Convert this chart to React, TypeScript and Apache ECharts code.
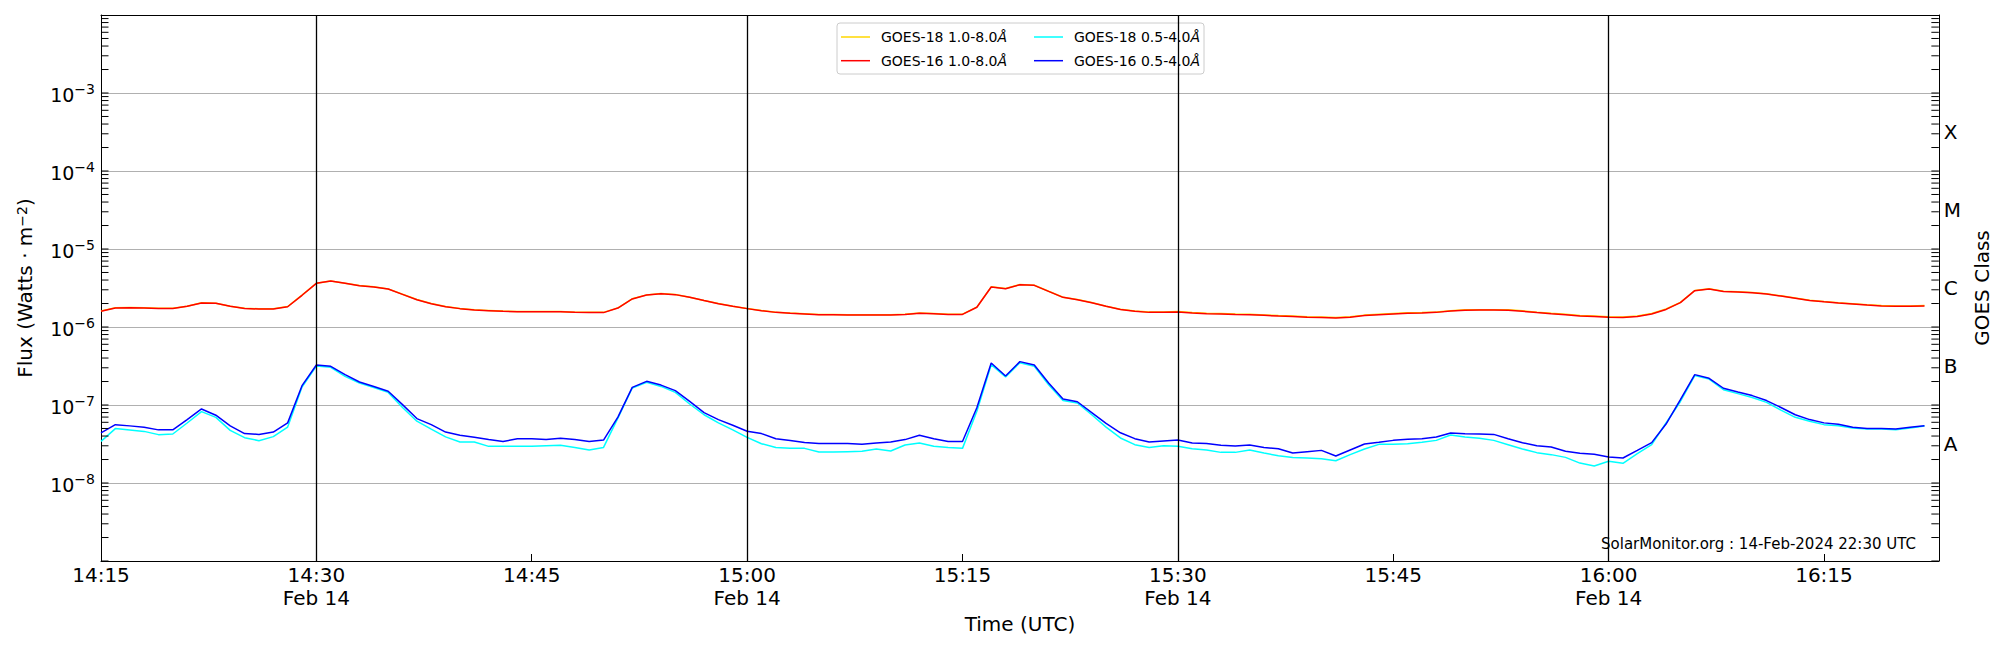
import React, { useEffect, useRef } from "react";
import * as echarts from "echarts";

// ---- data (1-minute cadence starting 14:15 UTC, 14-Feb-2024) ----
const START_HOUR = 14;
const START_MIN = 15;
const DATE_LABEL = "Feb 14";
const X_MAX = 128; // minutes after start shown on the axis
const minutes = Array.from({ length: 128 }, (_, i) => i);

const goes16Long = [
  1.59e-6, 1.75e-6, 1.77e-6, 1.75e-6, 1.73e-6, 1.73e-6, 1.84e-6, 2.03e-6, 2.01e-6, 1.84e-6,
  1.73e-6, 1.70e-6, 1.70e-6, 1.82e-6, 2.55e-6, 3.63e-6, 3.89e-6, 3.63e-6, 3.39e-6, 3.26e-6,
  3.07e-6, 2.62e-6, 2.24e-6, 1.99e-6, 1.82e-6, 1.72e-6, 1.65e-6, 1.62e-6, 1.59e-6, 1.57e-6,
  1.57e-6, 1.57e-6, 1.57e-6, 1.54e-6, 1.53e-6, 1.53e-6, 1.75e-6, 2.29e-6, 2.57e-6, 2.67e-6,
  2.60e-6, 2.40e-6, 2.18e-6, 1.99e-6, 1.84e-6, 1.72e-6, 1.62e-6, 1.54e-6, 1.50e-6, 1.47e-6,
  1.44e-6, 1.44e-6, 1.43e-6, 1.43e-6, 1.43e-6, 1.43e-6, 1.45e-6, 1.50e-6, 1.48e-6, 1.45e-6,
  1.45e-6, 1.79e-6, 3.26e-6, 3.10e-6, 3.49e-6, 3.42e-6, 2.86e-6, 2.40e-6, 2.24e-6, 2.05e-6,
  1.84e-6, 1.68e-6, 1.59e-6, 1.54e-6, 1.54e-6, 1.56e-6, 1.51e-6, 1.48e-6, 1.47e-6, 1.45e-6,
  1.44e-6, 1.41e-6, 1.38e-6, 1.36e-6, 1.33e-6, 1.32e-6, 1.30e-6, 1.33e-6, 1.40e-6, 1.44e-6,
  1.47e-6, 1.50e-6, 1.51e-6, 1.54e-6, 1.60e-6, 1.64e-6, 1.65e-6, 1.65e-6, 1.64e-6, 1.59e-6,
  1.53e-6, 1.48e-6, 1.44e-6, 1.38e-6, 1.36e-6, 1.33e-6, 1.32e-6, 1.36e-6, 1.47e-6, 1.68e-6,
  2.05e-6, 2.92e-6, 3.07e-6, 2.86e-6, 2.81e-6, 2.75e-6, 2.65e-6, 2.49e-6, 2.33e-6, 2.18e-6,
  2.10e-6, 2.03e-6, 1.97e-6, 1.91e-6, 1.86e-6, 1.84e-6, 1.84e-6, 1.86e-6,
];

const goes18Long = [
  1.60e-6, 1.76e-6, 1.78e-6, 1.76e-6, 1.74e-6, 1.74e-6, 1.85e-6, 2.04e-6, 2.02e-6, 1.85e-6,
  1.74e-6, 1.71e-6, 1.71e-6, 1.83e-6, 2.56e-6, 3.64e-6, 3.90e-6, 3.64e-6, 3.40e-6, 3.27e-6,
  3.08e-6, 2.63e-6, 2.25e-6, 2.00e-6, 1.83e-6, 1.73e-6, 1.66e-6, 1.63e-6, 1.60e-6, 1.58e-6,
  1.58e-6, 1.58e-6, 1.58e-6, 1.55e-6, 1.54e-6, 1.54e-6, 1.76e-6, 2.30e-6, 2.58e-6, 2.68e-6,
  2.61e-6, 2.41e-6, 2.19e-6, 2.00e-6, 1.85e-6, 1.73e-6, 1.63e-6, 1.55e-6, 1.51e-6, 1.48e-6,
  1.45e-6, 1.45e-6, 1.44e-6, 1.44e-6, 1.44e-6, 1.44e-6, 1.46e-6, 1.51e-6, 1.49e-6, 1.46e-6,
  1.46e-6, 1.80e-6, 3.27e-6, 3.11e-6, 3.50e-6, 3.43e-6, 2.87e-6, 2.41e-6, 2.25e-6, 2.06e-6,
  1.85e-6, 1.69e-6, 1.60e-6, 1.56e-6, 1.56e-6, 1.58e-6, 1.53e-6, 1.50e-6, 1.49e-6, 1.47e-6,
  1.46e-6, 1.43e-6, 1.40e-6, 1.38e-6, 1.35e-6, 1.34e-6, 1.32e-6, 1.35e-6, 1.42e-6, 1.46e-6,
  1.49e-6, 1.52e-6, 1.53e-6, 1.56e-6, 1.62e-6, 1.66e-6, 1.67e-6, 1.67e-6, 1.66e-6, 1.61e-6,
  1.55e-6, 1.50e-6, 1.46e-6, 1.40e-6, 1.38e-6, 1.35e-6, 1.34e-6, 1.38e-6, 1.49e-6, 1.70e-6,
  2.07e-6, 2.94e-6, 3.09e-6, 2.88e-6, 2.83e-6, 2.77e-6, 2.67e-6, 2.51e-6, 2.35e-6, 2.20e-6,
  2.12e-6, 2.05e-6, 1.99e-6, 1.93e-6, 1.88e-6, 1.86e-6, 1.86e-6, 1.88e-6,
];

const goes16Short = [
  4.4e-8, 5.6e-8, 5.4e-8, 5.2e-8, 4.8e-8, 4.8e-8, 6.5e-8, 8.9e-8, 7.4e-8, 5.4e-8,
  4.3e-8, 4.2e-8, 4.5e-8, 5.9e-8, 1.77e-7, 3.26e-7, 3.13e-7, 2.45e-7, 1.97e-7, 1.73e-7,
  1.5e-7, 1.01e-7, 6.7e-8, 5.6e-8, 4.5e-8, 4.1e-8, 3.85e-8, 3.6e-8, 3.4e-8, 3.7e-8,
  3.7e-8, 3.6e-8, 3.75e-8, 3.6e-8, 3.4e-8, 3.55e-8, 7.0e-8, 1.68e-7, 2.01e-7, 1.8e-7,
  1.53e-7, 1.11e-7, 8.0e-8, 6.5e-8, 5.5e-8, 4.6e-8, 4.3e-8, 3.7e-8, 3.5e-8, 3.3e-8,
  3.2e-8, 3.2e-8, 3.2e-8, 3.15e-8, 3.25e-8, 3.35e-8, 3.6e-8, 4.1e-8, 3.7e-8, 3.4e-8,
  3.4e-8, 9.2e-8, 3.45e-7, 2.35e-7, 3.6e-7, 3.26e-7, 1.91e-7, 1.19e-7, 1.1e-7, 8.0e-8,
  5.8e-8, 4.4e-8, 3.7e-8, 3.35e-8, 3.45e-8, 3.55e-8, 3.25e-8, 3.2e-8, 3.05e-8, 2.98e-8,
  3.07e-8, 2.86e-8, 2.75e-8, 2.42e-8, 2.52e-8, 2.62e-8, 2.22e-8, 2.65e-8, 3.16e-8, 3.32e-8,
  3.52e-8, 3.63e-8, 3.7e-8, 3.89e-8, 4.38e-8, 4.28e-8, 4.24e-8, 4.2e-8, 3.7e-8, 3.29e-8,
  3.01e-8, 2.9e-8, 2.55e-8, 2.4e-8, 2.33e-8, 2.15e-8, 2.09e-8, 2.62e-8, 3.29e-8, 5.7e-8,
  1.17e-7, 2.45e-7, 2.2e-7, 1.64e-7, 1.47e-7, 1.32e-7, 1.14e-7, 9.3e-8, 7.5e-8, 6.5e-8,
  5.9e-8, 5.65e-8, 5.17e-8, 4.98e-8, 4.98e-8, 4.92e-8, 5.17e-8, 5.43e-8,
];

const goes18Short = [
  3.42e-8, 4.98e-8, 4.78e-8, 4.59e-8, 4.17e-8, 4.25e-8, 5.88e-8, 8.22e-8, 6.95e-8, 4.73e-8,
  3.81e-8, 3.49e-8, 3.93e-8, 5.22e-8, 1.7e-7, 3.16e-7, 3.04e-7, 2.33e-7, 1.91e-7, 1.68e-7,
  1.45e-7, 9.3e-8, 6.2e-8, 4.9e-8, 3.9e-8, 3.36e-8, 3.36e-8, 2.95e-8, 2.95e-8, 2.95e-8,
  2.95e-8, 3.01e-8, 3.04e-8, 2.86e-8, 2.65e-8, 2.86e-8, 6.8e-8, 1.65e-7, 1.95e-7, 1.73e-7,
  1.45e-7, 1.03e-7, 7.5e-8, 5.9e-8, 4.8e-8, 3.85e-8, 3.19e-8, 2.86e-8, 2.78e-8, 2.78e-8,
  2.49e-8, 2.49e-8, 2.52e-8, 2.55e-8, 2.73e-8, 2.57e-8, 3.07e-8, 3.26e-8, 2.95e-8, 2.86e-8,
  2.78e-8, 8.3e-8, 3.29e-7, 2.29e-7, 3.49e-7, 3.13e-7, 1.82e-7, 1.14e-7, 1.06e-7, 7.5e-8,
  5.2e-8, 3.78e-8, 3.1e-8, 2.86e-8, 3.01e-8, 2.95e-8, 2.75e-8, 2.65e-8, 2.47e-8, 2.47e-8,
  2.65e-8, 2.42e-8, 2.24e-8, 2.13e-8, 2.09e-8, 2.05e-8, 1.93e-8, 2.31e-8, 2.73e-8, 3.13e-8,
  3.13e-8, 3.19e-8, 3.32e-8, 3.52e-8, 4.12e-8, 3.89e-8, 3.74e-8, 3.52e-8, 3.1e-8, 2.73e-8,
  2.45e-8, 2.31e-8, 2.13e-8, 1.8e-8, 1.65e-8, 1.9e-8, 1.79e-8, 2.38e-8, 3.1e-8, 5.88e-8,
  1.11e-7, 2.38e-7, 2.15e-7, 1.57e-7, 1.4e-7, 1.25e-7, 1.08e-7, 8.6e-8, 6.95e-8, 6.18e-8,
  5.6e-8, 5.43e-8, 5.07e-8, 4.92e-8, 4.92e-8, 4.83e-8, 5.07e-8, 5.38e-8,
];

const SERIES_NAMES = {
  g18Long: "GOES-18 1.0-8.0Å",
  g16Long: "GOES-16 1.0-8.0Å",
  g18Short: "GOES-18 0.5-4.0Å",
  g16Short: "GOES-16 0.5-4.0Å",
};

const vLineMinutes = [15, 45, 75, 105]; // 14:30, 15:00, 15:30, 16:00
const Y_MIN_EXP = -9;
const Y_MAX_EXP = -2;
const goesClasses = [
  { exp: -7.5, label: "A" },
  { exp: -6.5, label: "B" },
  { exp: -5.5, label: "C" },
  { exp: -4.5, label: "M" },
  { exp: -3.5, label: "X" },
];
const annotation = "SolarMonitor.org : 14-Feb-2024 22:30 UTC";

const FONT = "DejaVu Sans";

function pad2(n: number) {
  return n < 10 ? "0" + n : String(n);
}

export default function App() {
  const ref = useRef<HTMLDivElement>(null);

  useEffect(() => {
    if (!ref.current) return;
    const chart = echarts.init(ref.current, null, { renderer: "svg" });

    const pairs = (vals: number[]) => minutes.map((m, i) => [m, vals[i]]);

    // log tick positions (axis decoration), 1..9 x 10^e
    const tickData: number[][] = [];
    for (let e = Y_MIN_EXP; e < Y_MAX_EXP; e++) {
      for (let k = 1; k <= 9; k++) {
        tickData.push([0, k * Math.pow(10, e), k === 1 ? 1 : 0]);
      }
    }

    const classMap: Record<string, string> = {};
    goesClasses.forEach((c) => (classMap[c.exp.toFixed(1)] = c.label));

    const legendFmt = (name: string) => name.replace("Å", "{i|Å}");
    const legendText = {
      fontFamily: FONT,
      fontSize: 14,
      color: "#000",
      padding: [0, 0, 0, 6],
      rich: { i: { fontFamily: FONT, fontSize: 14, fontStyle: "italic", color: "#000" } },
    };
    const legendBase = {
      top: 30,
      orient: "vertical",
      padding: 0,
      icon: "rect",
      itemWidth: 29,
      itemHeight: 1.5,
      itemGap: 9.7,
      selectedMode: false,
      formatter: legendFmt,
      textStyle: legendText,
      z: 6,
    };

    const lineSeries = (name: string, data: number[], color: string, extra: any = {}) => ({
      name,
      type: "line",
      data: pairs(data),
      symbol: "none",
      showSymbol: false,
      lineStyle: { color, width: 1.5 },
      itemStyle: { color },
      xAxisIndex: 0,
      yAxisIndex: 0,
      ...extra,
    });

    const option: any = {
      animation: false,
      textStyle: { fontFamily: FONT, color: "#000" },
      grid: { left: 101, right: 60, top: 15, bottom: 89, containLabel: false },
      xAxis: [
        {
          type: "value",
          position: "bottom",
          min: 0,
          max: X_MAX,
          interval: 15,
          name: "Time (UTC)",
          nameLocation: "middle",
          nameGap: 52,
          nameTextStyle: { fontFamily: FONT, fontSize: 20, color: "#000" },
          axisLine: { show: true, onZero: false, lineStyle: { color: "#000", width: 1 } },
          axisTick: { show: true, inside: true, length: 7, lineStyle: { color: "#000", width: 1 } },
          splitLine: { show: false },
          axisLabel: {
            show: true,
            margin: 2,
            fontFamily: FONT,
            fontSize: 20,
            lineHeight: 23,
            color: "#000",
            showMaxLabel: false,
            formatter: (v: number) => {
              if (v % 15 !== 0) return "";
              const total = START_HOUR * 60 + START_MIN + v;
              const hh = Math.floor(total / 60);
              const mm = total % 60;
              const t = `${pad2(hh)}:${pad2(mm)}`;
              return mm % 30 === 0 ? `${t}\n${DATE_LABEL}` : t;
            },
          },
        },
        {
          type: "value",
          position: "top",
          min: 0,
          max: X_MAX,
          interval: 15,
          axisLine: { show: true, onZero: false, lineStyle: { color: "#000", width: 1 } },
          axisTick: { show: false },
          axisLabel: { show: false },
          splitLine: { show: false },
        },
      ],
      yAxis: [
        {
          type: "log",
          logBase: 10,
          position: "left",
          min: Math.pow(10, Y_MIN_EXP),
          max: Math.pow(10, Y_MAX_EXP),
          splitNumber: 7,
          name: "Flux (Watts · m{s|−2})",
          nameLocation: "middle",
          nameGap: 66,
          nameRotate: 90,
          nameTextStyle: {
            fontFamily: FONT,
            fontSize: 20,
            color: "#000",
            rich: { s: { fontFamily: FONT, fontSize: 14, verticalAlign: "top", color: "#000" } },
          },
          axisLine: { show: true, onZero: false, lineStyle: { color: "#000", width: 1 } },
          axisTick: { show: false },
          minorTick: { show: false },
          splitLine: {
            show: true,
            showMinLine: false,
            showMaxLine: false,
            lineStyle: { color: "#b0b0b0", width: 1 },
          },
          axisLabel: {
            margin: 6,
            color: "#000",
            formatter: (v: number) => {
              const e = Math.round(Math.log10(v));
              if (e <= Y_MIN_EXP || e >= Y_MAX_EXP) return "";
              return `{b|10}{e|−${-e}}`;
            },
            rich: {
              b: { fontFamily: FONT, fontSize: 19, lineHeight: 22, padding: [4, 0, 0, 0], color: "#000" },
              e: { fontFamily: FONT, fontSize: 14, verticalAlign: "top", lineHeight: 14, color: "#000" },
            },
          },
        },
        {
          type: "value",
          position: "right",
          min: Y_MIN_EXP,
          max: Y_MAX_EXP,
          interval: 0.5,
          name: "GOES Class",
          nameLocation: "middle",
          nameGap: 22,
          nameRotate: 90,
          nameTextStyle: { fontFamily: FONT, fontSize: 20, color: "#000" },
          axisLine: { show: true, onZero: false, lineStyle: { color: "#000", width: 1 } },
          axisTick: { show: false },
          splitLine: { show: false },
          axisLabel: {
            margin: 5,
            fontFamily: FONT,
            fontSize: 20,
            color: "#000",
            formatter: (v: number) => classMap[v.toFixed(1)] || "",
          },
        },
      ],
      legend: [
        {
          ...legendBase,
          left: 841,
          data: [SERIES_NAMES.g18Long, SERIES_NAMES.g16Long],
        },
        {
          ...legendBase,
          left: 1034,
          data: [SERIES_NAMES.g18Short, SERIES_NAMES.g16Short],
        },
      ],
      graphic: [
        {
          type: "rect",
          z: 5,
          shape: { x: 837, y: 23, width: 367, height: 51, r: 3 },
          style: { fill: "rgba(255,255,255,0.8)", stroke: "#cccccc", lineWidth: 1 },
        },
        {
          type: "text",
          z: 6,
          x: 1916,
          y: 544,
          style: {
            text: annotation,
            fontFamily: FONT,
            fontSize: 15,
            fill: "#000",
            align: "right",
            verticalAlign: "middle",
          },
        },
      ],
      series: [
        lineSeries(SERIES_NAMES.g18Long, goes18Long, "#ffd700", {
          markLine: {
            silent: true,
            symbol: ["none", "none"],
            label: { show: false },
            lineStyle: { color: "#000", width: 1.3, type: "solid" },
            data: vLineMinutes.map((m) => ({ xAxis: m })),
          },
        }),
        lineSeries(SERIES_NAMES.g16Long, goes16Long, "#ff0000"),
        lineSeries(SERIES_NAMES.g18Short, goes18Short, "#00ffff"),
        lineSeries(SERIES_NAMES.g16Short, goes16Short, "#0000ff"),
        {
          name: "ticks",
          type: "custom",
          silent: true,
          clip: false,
          xAxisIndex: 0,
          yAxisIndex: 0,
          z: 10,
          data: tickData,
          renderItem: (params: any, api: any) => {
            const v = api.value(1);
            const y = api.coord([0, v])[1];
            const cs = params.coordSys;
            const len = 7.5;
            const st = { stroke: "#000", lineWidth: 1 };
            return {
              type: "group",
              children: [
                { type: "line", shape: { x1: cs.x, y1: y, x2: cs.x + len, y2: y }, style: st },
                {
                  type: "line",
                  shape: { x1: cs.x + cs.width - len, y1: y, x2: cs.x + cs.width, y2: y },
                  style: st,
                },
              ],
            };
          },
        },
      ],
    };

    chart.setOption(option);
    return () => chart.dispose();
  }, []);

  return (
    <div
      ref={ref}
      style={{ position: "absolute", left: 0, top: 0, width: 2000, height: 650, background: "#fff" }}
    />
  );
}
